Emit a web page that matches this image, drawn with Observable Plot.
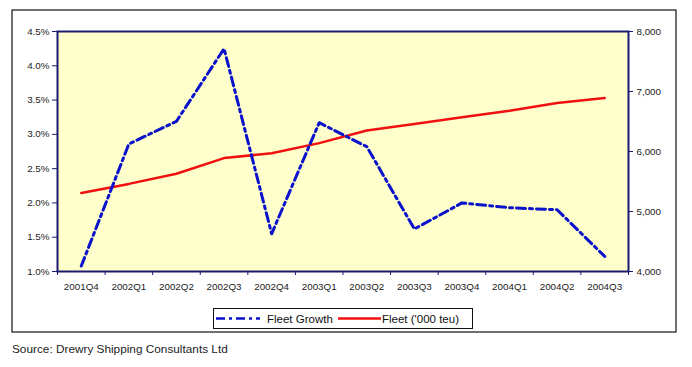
<!DOCTYPE html>
<html>
<head>
<meta charset="utf-8">
<script src="https://cdn.jsdelivr.net/npm/d3@7"></script>
<script src="https://cdn.jsdelivr.net/npm/@observablehq/plot@0.6"></script>
<style>
  html, body { margin: 0; padding: 0; background: #fff; }
  #chart { width: 692px; height: 367px; }
</style>
</head>
<body>
<div id="chart"></div>
<script>
const categories = ["2001Q4","2002Q1","2002Q2","2002Q3","2002Q4","2003Q1","2003Q2","2003Q3","2003Q4","2004Q1","2004Q2","2004Q3"];
const fleetGrowth = [1.08, 2.86, 3.19, 4.25, 1.55, 3.17, 2.82, 1.62, 2.00, 1.93, 1.90, 1.22];
const fleet = [5310, 5460, 5630, 5890, 5970, 6140, 6350, 6460, 6570, 6680, 6810, 6890];
const leftTicks = [1.0, 1.5, 2.0, 2.5, 3.0, 3.5, 4.0, 4.5];
const rightTicks = [4000, 5000, 6000, 7000, 8000];
const seriesNames = ["Fleet Growth", "Fleet ('000 teu)"];
const sourceText = "Source: Drewry Shipping Consultants Ltd";

const yMin = leftTicks[0], yMax = leftTicks[leftTicks.length - 1];
const rMin = rightTicks[0], rMax = rightTicks[rightTicks.length - 1];
const toLeft = v => yMin + (v - rMin) / (rMax - rMin) * (yMax - yMin);
const toRight = d => rMin + (d - yMin) / (yMax - yMin) * (rMax - rMin);

const data = categories.map((c, i) => ({i, cat: c, growth: fleetGrowth[i], fleet: toLeft(fleet[i])}));
const idx = categories.map((c, i) => i);
const bounds = d3.range(categories.length + 1).map(k => k - 0.5);

const navy = "#1b1b6f";
const font = "'Liberation Sans', Arial, sans-serif";

const svg = Plot.plot({
  width: 692, height: 367,
  marginLeft: 57, marginRight: 64, marginTop: 31, marginBottom: 96,
  style: {fontFamily: font, fontSize: "9.8px", color: "#222", background: "#fff", overflow: "visible"},
  x: {type: "linear", domain: [-0.5, categories.length - 0.5]},
  y: {domain: [yMin, yMax]},
  marks: [
    Plot.frame({fill: "#FFFFCC"}),
    Plot.lineY(data, {x: "i", y: "fleet", stroke: "#f01010", strokeWidth: 2.5}),
    Plot.lineY(data, {x: "i", y: "growth", stroke: "#0b12cc", strokeWidth: 3, strokeDasharray: "9,4,3,4"}),
    Plot.frame({stroke: navy, strokeWidth: 2}),
    Plot.axisY(leftTicks, {anchor: "left", tickSize: 5, tickPadding: 3, stroke: navy, tickFormat: d => d.toFixed(1) + "%", label: null}),
    Plot.axisY(rightTicks.map(toLeft), {anchor: "right", tickSize: 4, tickPadding: 4, stroke: navy, tickFormat: d => d3.format(",")(Math.round(toRight(d))), label: null}),
    Plot.axisX(bounds, {anchor: "bottom", tickSize: 4, stroke: navy, tickFormat: () => "", label: null}),
    Plot.axisX(idx, {anchor: "bottom", tickSize: 0, tickPadding: 12, tickFormat: i => categories[i], label: null})
  ]
});

document.getElementById("chart").appendChild(svg);

const s = d3.select(svg);
// outer chart border
s.append("rect").attr("x", 12).attr("y", 10).attr("width", 664).attr("height", 322)
  .attr("fill", "none").attr("stroke", "#111").attr("stroke-width", 1.2);

// legend
const lg = s.append("g").attr("font-family", font).attr("font-size", 11.5).attr("fill", "#111")
  .attr("text-anchor", "start");
lg.append("rect").attr("x", 213.5).attr("y", 308.5).attr("width", 259).attr("height", 20)
  .attr("fill", "#fff").attr("stroke", "#111").attr("stroke-width", 1);
lg.append("line").attr("x1", 216).attr("x2", 260).attr("y1", 318.5).attr("y2", 318.5)
  .attr("stroke", "#0b12cc").attr("stroke-width", 2.5).attr("stroke-dasharray", "9,4,3,4");
lg.append("text").attr("x", 267).attr("y", 322.5).attr("text-anchor", "start").text(seriesNames[0]);
lg.append("line").attr("x1", 338).attr("x2", 381).attr("y1", 318.5).attr("y2", 318.5)
  .attr("stroke", "#f01010").attr("stroke-width", 2.5);
lg.append("text").attr("x", 382).attr("y", 322.5).attr("text-anchor", "start").text(seriesNames[1]);

// source
s.append("text").attr("x", 12).attr("y", 353).attr("font-family", font).attr("font-size", 11.8)
  .attr("text-anchor", "start").attr("fill", "#222").text(sourceText);
</script>
</body>
</html>
